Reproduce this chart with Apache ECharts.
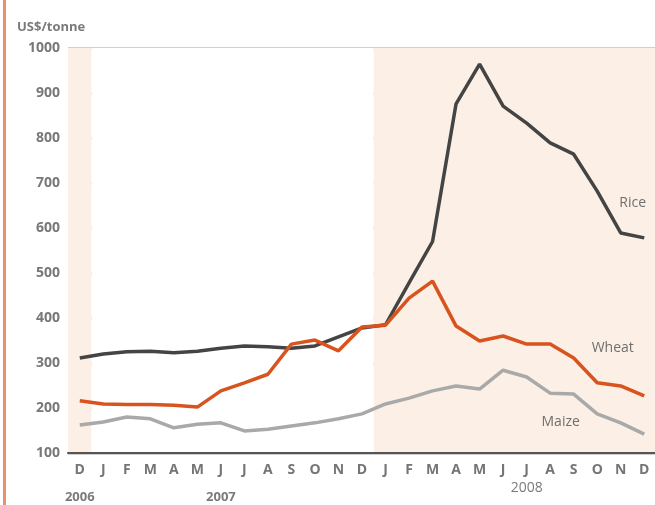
<!DOCTYPE html>
<html>
<head>
<meta charset="utf-8">
<script src="https://cdn.jsdelivr.net/npm/echarts@6/dist/echarts.min.js"></script>
<style>
html, body { margin: 0; padding: 0; background: #fff; }
#main { width: 655px; height: 505px; }
</style>
</head>
<body>
<div id="main"></div>
<script>
// months Dec 2006 .. Dec 2008
var months = ['D', 'J', 'F', 'M', 'A', 'M', 'J', 'J', 'A', 'S', 'O', 'N', 'D',
	'J', 'F', 'M', 'A', 'M', 'J', 'J', 'A', 'S', 'O', 'N', 'D'];
var years = ['2006', '', '', '', '', '', '2007', '', '', '', '', '', '',
	'', '', '', '', '', '', '2008', '', '', '', '', ''];
var yTicks = [100, 200, 300, 400, 500, 600, 700, 800, 900, 1000];

var rice = [311, 320, 325, 326, 323, 326, 333, 338, 336, 333, 338, 358, 378,
	385, 478, 570, 876, 964, 871, 833, 789, 764, 682, 589, 578];
var wheat = [216, 209, 208, 208, 206, 202, 238, 256, 275, 342, 351, 327, 380,
	384, 444, 482, 382, 349, 360, 342, 342, 311, 256, 249, 227];
var maize = [162, 169, 180, 176, 156, 164, 167, 149, 153, 160, 167, 176, 187,
	209, 222, 238, 249, 242, 284, 269, 233, 231, 187, 167, 142];

// shaded months: Dec 2006 and all of 2008
var peach = '#fcefe5';
var bandColors = [peach];
for (var i = 1; i < months.length; i++) {
	bandColors.push(i >= 13 ? peach : '#ffffff');
}

var myChart = echarts.init(document.getElementById('main'));

var nameLabel = function(text, dx) {
	return {
		show: true,
		position: 'inside',
		formatter: text,
		offset: [dx, 0],
		color: '#6f6f6f',
		fontSize: 14,
		fontFamily: 'Open Sans'
	};
};

var options = {
	animation: false,
	title: {
		text: 'US$/tonne',
		left: 12,
		top: 16,
		textStyle: {
			color: '#7a7a7a',
			fontSize: 13,
			fontWeight: 'bold',
			fontFamily: 'Open Sans'
		}
	},
	graphic: [{
		type: 'rect',
		left: 3,
		top: 0,
		shape: { width: 3, height: 505 },
		style: { fill: '#e8926a' }
	}],
	grid: {
		left: 68,
		width: 588,
		top: 48,
		bottom: 52,
		outerBoundsMode: 'none'
	},
	xAxis: [{
		type: 'category',
		data: months,
		boundaryGap: true,
		axisLine: { lineStyle: { color: '#555', width: 2 } },
		axisTick: {
			alignWithLabel: true,
			inside: true,
			length: 7,
			lineStyle: { color: '#222', width: 2 }
		},
		axisLabel: {
			interval: 0,
			margin: 10,
			color: '#757575',
			fontSize: 14,
			fontWeight: 'bold',
			fontFamily: 'Open Sans'
		},
		splitArea: {
			show: true,
			interval: 0,
			areaStyle: { color: bandColors }
		}
	}, {
		type: 'category',
		data: years,
		position: 'bottom',
		offset: 20,
		boundaryGap: true,
		axisLine: { show: false },
		axisTick: { show: false },
		axisLabel: {
			interval: 0,
			margin: 8,
			color: '#7a7a7a',
			fontSize: 14,
			fontFamily: 'Open Sans',
			formatter: function(v, idx) {
				if (!v) return '';
				return idx < 13 ? '{low|' + v + '}' : v;
			},
			rich: {
				low: {
					fontSize: 13,
					fontWeight: 'bold',
					color: '#7a7a7a',
					fontFamily: 'Open Sans',
					padding: [10, 0, 0, 0]
				}
			}
		}
	}],
	yAxis: [{
		type: 'value',
		min: yTicks[0],
		max: yTicks[yTicks.length - 1],
		interval: 100,
		axisLine: { show: false },
		axisTick: { show: false },
		axisLabel: {
			margin: 8,
			color: '#787878',
			fontSize: 14,
			fontWeight: 'bold',
			fontFamily: 'Open Sans',
			formatter: function(v) { return String(v); }
		},
		splitLine: { lineStyle: { color: '#c2bebb', width: 2.5 } }
	}],
	series: [{
		name: 'Rice',
		type: 'line',
		data: rice,
		symbol: 'none',
		lineStyle: { color: '#444444', width: 3.5 },
		markPoint: {
			symbol: 'circle',
			symbolSize: 1,
			itemStyle: { color: 'transparent' },
			label: nameLabel('Rice', 12),
			data: [{ coord: [23, 656] }]
		}
	}, {
		name: 'Maize',
		type: 'line',
		data: maize,
		symbol: 'none',
		lineStyle: { color: '#a9a9a9', width: 3.5 },
		markPoint: {
			symbol: 'circle',
			symbolSize: 1,
			itemStyle: { color: 'transparent' },
			label: nameLabel('Maize', -13),
			data: [{ coord: [21, 169] }]
		}
	}, {
		name: 'Wheat',
		type: 'line',
		data: wheat,
		symbol: 'none',
		lineStyle: { color: '#d9531e', width: 3.5 },
		markPoint: {
			symbol: 'circle',
			symbolSize: 1,
			itemStyle: { color: 'transparent' },
			label: nameLabel('Wheat', -8),
			data: [{ coord: [23, 333] }]
		}
	}]
};

myChart.setOption(options, true);
</script>
</body>
</html>
